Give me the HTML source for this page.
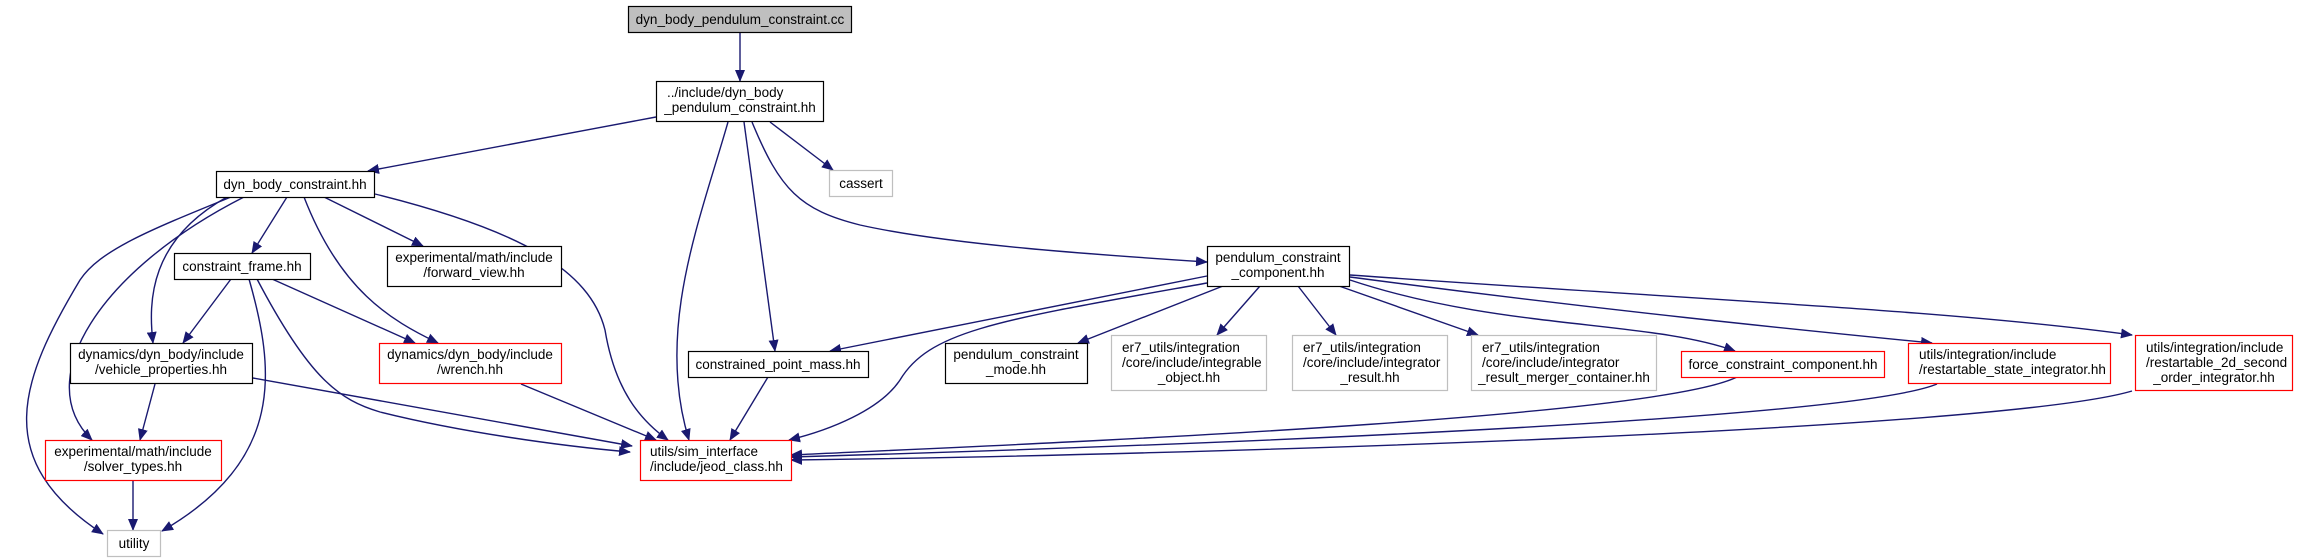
<!DOCTYPE html>
<html><head><meta charset="utf-8"><style>
html,body{margin:0;padding:0;background:#fff;}
svg{display:block;}
text{font-family:"Liberation Sans",sans-serif;font-size:13.5px;fill:#000;}
</style></head><body>
<svg width="2298" height="559" viewBox="0 0 2298 559" xmlns="http://www.w3.org/2000/svg">
<defs>
<marker id="a" markerWidth="12" markerHeight="10" refX="11" refY="5" orient="auto" markerUnits="userSpaceOnUse">
<polygon points="0,0 12,5 0,10" fill="#191970"/></marker>
</defs>
<g fill="none" stroke="#191970" stroke-width="1.4" marker-end="url(#a)">
<path d="M740,32 L740,81"/>
<path d="M656,117 L368,171"/>
<path d="M770,122 L833,170"/>
<path d="M728,122 C700,220 655,330 689,440"/>
<path d="M744,122 L775,351"/>
<path d="M752,122 C780,190 800,210 860,225 C950,245 1100,255 1207,262"/>
<path d="M231,197 C150,230 100,250 80,280 C20,380 -10,460 103,534"/>
<path d="M244,197 C100,270 30,380 92,440"/>
<path d="M227,197 C150,240 148,300 153,343"/>
<path d="M287,197 L252,253"/>
<path d="M304,197 C340,290 390,320 438,343"/>
<path d="M324,197 L423,246"/>
<path d="M375,194 C520,230 590,270 605,330 C615,390 640,420 668,440"/>
<path d="M231,279 L183,343"/>
<path d="M249,279 C275,370 285,460 162,531"/>
<path d="M257,279 C310,380 340,400 380,412 C460,432 560,446 630,452"/>
<path d="M272,279 L415,343"/>
<path d="M155,384 L140,440"/>
<path d="M253,378 L632,446"/>
<path d="M521,384 L656,440"/>
<path d="M133,481 L133,530"/>
<path d="M768,377 L730,440"/>
<path d="M1207,283 C1000,320 930,330 900,380 C880,410 830,430 789,440"/>
<path d="M1207,276 L830,351"/>
<path d="M1223,286 L1078,343"/>
<path d="M1260,286 L1217,335"/>
<path d="M1298,286 L1336,335"/>
<path d="M1339,286 L1478,335"/>
<path d="M1350,280 C1500,330 1650,320 1735,351"/>
<path d="M1350,277 C1600,310 1800,330 1932,343"/>
<path d="M1350,275 C1700,300 1950,310 2132,335"/>
<path d="M1737,377 C1650,420 1000,445 791,455"/>
<path d="M1937,384 C1850,420 1200,445 791,457"/>
<path d="M2132,391 C2000,430 1200,455 791,460"/>
</g>
<g stroke-width="1.2">
<rect x="628.5" y="6.5" width="223" height="26" fill="#bfbfbf" stroke="#000"/>
<rect x="656.5" y="81.5" width="167" height="40" fill="#fff" stroke="#000"/>
<rect x="829.5" y="170.5" width="63" height="26" fill="#fff" stroke="#bfbfbf"/>
<rect x="216.5" y="171.5" width="158" height="26" fill="#fff" stroke="#000"/>
<rect x="174.5" y="253.5" width="136" height="26" fill="#fff" stroke="#000"/>
<rect x="387.5" y="246.5" width="174" height="40" fill="#fff" stroke="#000"/>
<rect x="1207.5" y="246.5" width="142" height="40" fill="#fff" stroke="#000"/>
<rect x="70.5" y="343.5" width="182" height="40" fill="#fff" stroke="#000"/>
<rect x="379.5" y="343.5" width="182" height="40" fill="#fff" stroke="#ff0000"/>
<rect x="688.5" y="351.5" width="180" height="26" fill="#fff" stroke="#000"/>
<rect x="945.5" y="343.5" width="142" height="40" fill="#fff" stroke="#000"/>
<rect x="1111.5" y="335.5" width="155" height="55" fill="#fff" stroke="#bfbfbf"/>
<rect x="1292.5" y="335.5" width="155" height="55" fill="#fff" stroke="#bfbfbf"/>
<rect x="1471.5" y="335.5" width="185" height="55" fill="#fff" stroke="#bfbfbf"/>
<rect x="1681.5" y="351.5" width="203" height="26" fill="#fff" stroke="#ff0000"/>
<rect x="1908.5" y="343.5" width="202" height="40" fill="#fff" stroke="#ff0000"/>
<rect x="2135.5" y="335.5" width="157" height="55" fill="#fff" stroke="#ff0000"/>
<rect x="45.5" y="440.5" width="176" height="40" fill="#fff" stroke="#ff0000"/>
<rect x="640.5" y="440.5" width="151" height="40" fill="#fff" stroke="#ff0000"/>
<rect x="107.5" y="530.5" width="53" height="26" fill="#fff" stroke="#bfbfbf"/>
</g>
<g>
<text x="740" y="24" text-anchor="middle">dyn_body_pendulum_constraint.cc</text>
<text x="667" y="97">../include/dyn_body</text>
<text x="740" y="112" text-anchor="middle">_pendulum_constraint.hh</text>
<text x="861" y="188" text-anchor="middle">cassert</text>
<text x="295" y="189" text-anchor="middle">dyn_body_constraint.hh</text>
<text x="242" y="271" text-anchor="middle">constraint_frame.hh</text>
<text x="474" y="262" text-anchor="middle">experimental/math/include</text>
<text x="474" y="277" text-anchor="middle">/forward_view.hh</text>
<text x="1278" y="262" text-anchor="middle">pendulum_constraint</text>
<text x="1278" y="277" text-anchor="middle">_component.hh</text>
<text x="161" y="359" text-anchor="middle">dynamics/dyn_body/include</text>
<text x="161" y="374" text-anchor="middle">/vehicle_properties.hh</text>
<text x="470" y="359" text-anchor="middle">dynamics/dyn_body/include</text>
<text x="470" y="374" text-anchor="middle">/wrench.hh</text>
<text x="778" y="369" text-anchor="middle">constrained_point_mass.hh</text>
<text x="1016" y="359" text-anchor="middle">pendulum_constraint</text>
<text x="1016" y="374" text-anchor="middle">_mode.hh</text>
<text x="1122" y="352">er7_utils/integration</text>
<text x="1122" y="367">/core/include/integrable</text>
<text x="1189" y="382" text-anchor="middle">_object.hh</text>
<text x="1303" y="352">er7_utils/integration</text>
<text x="1303" y="367">/core/include/integrator</text>
<text x="1370" y="382" text-anchor="middle">_result.hh</text>
<text x="1482" y="352">er7_utils/integration</text>
<text x="1482" y="367">/core/include/integrator</text>
<text x="1564" y="382" text-anchor="middle">_result_merger_container.hh</text>
<text x="1783" y="369" text-anchor="middle">force_constraint_component.hh</text>
<text x="1919" y="359">utils/integration/include</text>
<text x="1919" y="374">/restartable_state_integrator.hh</text>
<text x="2146" y="352">utils/integration/include</text>
<text x="2146" y="367">/restartable_2d_second</text>
<text x="2214" y="382" text-anchor="middle">_order_integrator.hh</text>
<text x="133" y="456" text-anchor="middle">experimental/math/include</text>
<text x="133" y="471" text-anchor="middle">/solver_types.hh</text>
<text x="650" y="456">utils/sim_interface</text>
<text x="650" y="471">/include/jeod_class.hh</text>
<text x="134" y="548" text-anchor="middle">utility</text>
</g>
</svg>
</body></html>
